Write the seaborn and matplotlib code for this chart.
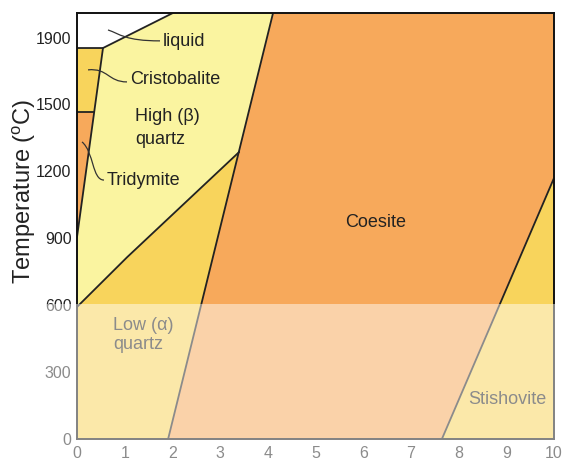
import matplotlib
matplotlib.use("Agg")
import matplotlib.pyplot as plt
import seaborn as sns
import pandas as pd
from matplotlib.patches import Rectangle, PathPatch
from matplotlib.path import Path

# Outlines of the SiO2 phase fields: pressure (GPa) and temperature
cristobalite_p = [0.0, 0.36, 0.545, 0.0]
cristobalite_t = [1466, 1466, 1753, 1753]
tridymite_p = [0.0, 0.36, 0.0]
tridymite_t = [905, 1466, 1466]
high_quartz_p = [0.0, 0.545, 2.01, 4.11, 3.40, 1.05, 0.0]
high_quartz_t = [905, 1753, 1910, 1910, 1287, 815, 592]
low_quartz_p = [0.0, 1.91, 3.40, 1.05, 0.0]
low_quartz_t = [0, 0, 1287, 815, 592]
coesite_p = [1.91, 7.65, 10.0, 10.0, 4.11]
coesite_t = [0, 0, 1170, 1910, 1910]
stishovite_p = [7.65, 10.0, 10.0]
stishovite_t = [0, 0, 1170]

# Phase boundaries
liquidus_p, liquidus_t = [0.0, 0.545, 2.01], [1753, 1753, 1910]
cris_trid_p, cris_trid_t = [0.0, 0.36], [1466, 1466]
trid_quartz_p, trid_quartz_t = [0.0, 0.545], [905, 1753]
alpha_beta_p, alpha_beta_t = [0.0, 1.05, 3.40], [592, 815, 1287]
quartz_coesite_p, quartz_coesite_t = [1.91, 4.11], [0, 1910]
coesite_stish_p, coesite_stish_t = [7.65, 10.0], [0, 1170]

# Axis ticks
p_ticks = list(range(0, 11))
t_ticks = [0, 300, 600, 900, 1200, 1500, 1800]
t_tick_labels = ["0", "300", "600", "900", "1200", "1500", "1900"]

LIGHT_YELLOW = "#FAF4A0"
GOLD = "#F8D45C"
ORANGE = "#F7A95B"
INK = "#222222"

sns.set_theme(style="white")
plt.rcParams["font.family"] = ["Liberation Sans", "DejaVu Sans"]
plt.rcParams["mathtext.fontset"] = "custom"
plt.rcParams["mathtext.rm"] = "Liberation Sans"

fig = plt.figure(figsize=(5.65, 4.61), dpi=100)
ax = fig.add_axes([77 / 565, 22 / 461, 477 / 565, 426 / 461])
ax.set_facecolor("white")

fields = [
    (cristobalite_p, cristobalite_t, GOLD),
    (tridymite_p, tridymite_t, ORANGE),
    (high_quartz_p, high_quartz_t, LIGHT_YELLOW),
    (low_quartz_p, low_quartz_t, GOLD),
    (coesite_p, coesite_t, ORANGE),
    (stishovite_p, stishovite_t, GOLD),
]
for p, t, c in fields:
    ax.fill(p, t, color=c, lw=0, zorder=1)

boundaries = [
    (liquidus_p, liquidus_t),
    (cris_trid_p, cris_trid_t),
    (trid_quartz_p, trid_quartz_t),
    (alpha_beta_p, alpha_beta_t),
    (quartz_coesite_p, quartz_coesite_t),
    (coesite_stish_p, coesite_stish_t),
]
for p, t in boundaries:
    df = pd.DataFrame({"p": p, "t": t})
    sns.lineplot(data=df, x="p", y="t", sort=False, estimator=None,
                 color=INK, lw=1.3, ax=ax, zorder=2)

# curved leader lines from the small fields to their labels (cubic Bezier)
leaders = [
    [(0.650, 1834), (0.901, 1816), (1.006, 1785), (1.740, 1785)],
    [(0.231, 1655), (0.650, 1664), (0.650, 1601), (1.048, 1601)],
    [(0.105, 1332), (0.356, 1287), (0.314, 1161), (0.566, 1161)],
]
for pts in leaders:
    path = Path(pts, [Path.MOVETO, Path.CURVE4, Path.CURVE4, Path.CURVE4])
    ax.add_patch(PathPatch(path, facecolor="none", edgecolor="#333333",
                           lw=0.9, zorder=3))

label_kw = dict(fontsize=13, color=INK, va="center", ha="left", zorder=3)
ax.text(1.80, 1780, "liquid", **label_kw)
ax.text(1.11, 1610, "Cristobalite", **label_kw)
ax.text(0.63, 1161, "Tridymite", **label_kw)
ax.text(1.22, 1444, "High (β)", **label_kw)
ax.text(1.22, 1341, "quartz", **label_kw)
ax.text(6.25, 969, "Coesite", fontsize=13, color=INK, ha="center", va="center", zorder=3)
ax.text(0.76, 511, "Low (α)", **label_kw)
ax.text(0.76, 422, "quartz", **label_kw)
ax.text(8.2, 175, "Stishovite", **label_kw)

ax.set_xlim(0, 10)
ax.set_ylim(0, 1910)
ax.set_xticks(p_ticks)
ax.set_yticks(t_ticks)
ax.set_yticklabels(t_tick_labels)
ax.set_xlabel("")
ax.set_ylabel(r"Temperature ($^{\mathrm{o}}$C)", fontsize=17, color=INK)
ax.yaxis.set_label_coords(-0.082, 0.582)
ax.tick_params(axis="both", direction="in", length=7, width=1.1,
               colors=INK, labelsize=11.5)
ax.tick_params(axis="y", pad=4)
ax.tick_params(axis="x", pad=5)
for s in ax.spines.values():
    s.set_visible(True)
    s.set_color("#111111")
    s.set_linewidth(1.4)
    s.set_zorder(4)

# translucent white band across the lower part of the figure
fig.add_artist(Rectangle((0, 0), 1, (461 - 304) / 461, transform=fig.transFigure,
                         facecolor="white", edgecolor="none", alpha=0.48, zorder=10))

fig.savefig("out.png", dpi=100)
